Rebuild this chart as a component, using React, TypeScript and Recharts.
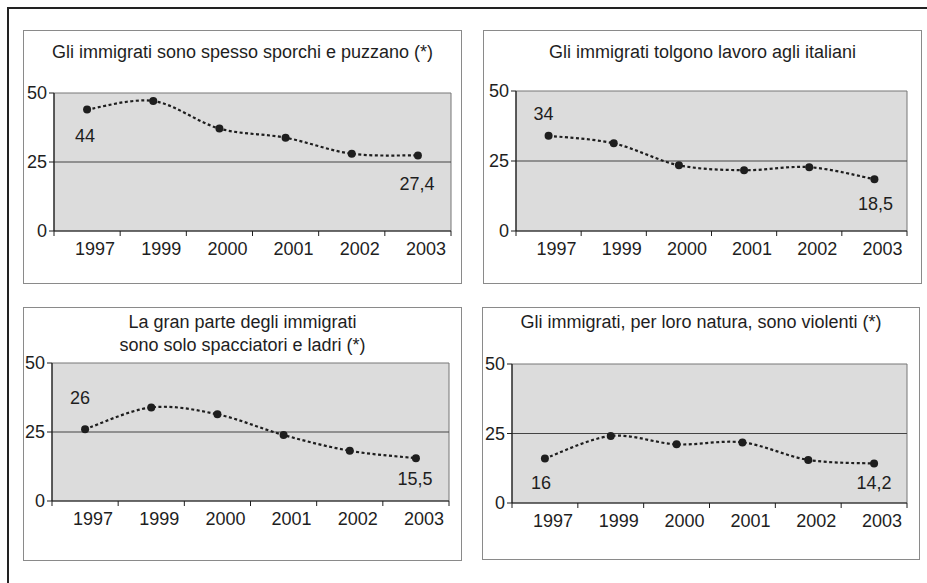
import { LineChart, Line, XAxis, YAxis, ReferenceArea, ReferenceLine } from 'recharts';

const years = ['1997', '1999', '2000', '2001', '2002', '2003'];
const yTicks = [0, 25, 50];

const sporchi = [44, 47.1, 37.1, 33.8, 28, 27.4];
const lavoro = [34, 31.3, 23.5, 21.7, 22.8, 18.5];
const ladri = [26, 33.9, 31.4, 23.9, 18.2, 15.5];
const violenti = [16, 24.1, 21.1, 21.8, 15.5, 14.2];

const titleSporchi = ['Gli immigrati sono spesso sporchi e puzzano (*)'];
const titleLavoro = ['Gli immigrati tolgono lavoro agli italiani'];
const titleLadri = ['La gran parte degli immigrati', 'sono solo spacciatori e ladri (*)'];
const titleViolenti = ['Gli immigrati, per loro natura, sono violenti (*)'];

const FONT = '"Liberation Sans", Arial, sans-serif';
const INK = '#1e1e1e';
const X_AXIS_H = 30;

interface Box { l: number; t: number; r: number; b: number }

interface PanelCfg {
  title: string[];
  values: number[];
  box: Box;
  plot: Box;
  titleTop: number;
  // offset of the first / last value label from its point
  labelDy: [number, number];
  labelDx: [number, number];
}

const panels: PanelCfg[] = [
  { title: titleSporchi, values: sporchi, box: { l: 23, t: 30, r: 462, b: 284 }, plot: { l: 54, t: 93, r: 451, b: 231 }, titleTop: 41, labelDy: [26, 28], labelDx: [-2, -1] },
  { title: titleLavoro, values: lavoro, box: { l: 483, t: 30, r: 922, b: 284 }, plot: { l: 516, t: 91, r: 907, b: 231 }, titleTop: 41, labelDy: [-22, 24], labelDx: [-5, 1] },
  { title: titleLadri, values: ladri, box: { l: 23, t: 307, r: 462, b: 561 }, plot: { l: 52, t: 363, r: 449, b: 501 }, titleTop: 311, labelDy: [-32, 20], labelDx: [-5, -1] },
  { title: titleViolenti, values: violenti, box: { l: 482, t: 307, r: 920, b: 560 }, plot: { l: 512, t: 364, r: 907, b: 503 }, titleTop: 311, labelDy: [24, 19], labelDx: [-4, 0] },
];

// Excel-like smoothed line (uniform Catmull-Rom)
function catmullRom(context: any) {
  let pts: [number, number][] = [];
  return {
    areaStart() {},
    areaEnd() {},
    lineStart() { pts = []; },
    lineEnd() {
      const n = pts.length;
      if (!n) return;
      context.moveTo(pts[0][0], pts[0][1]);
      for (let i = 0; i < n - 1; i++) {
        const p0 = pts[Math.max(i - 1, 0)];
        const p1 = pts[i];
        const p2 = pts[i + 1];
        const p3 = pts[Math.min(i + 2, n - 1)];
        context.bezierCurveTo(
          p1[0] + (p2[0] - p0[0]) / 6, p1[1] + (p2[1] - p0[1]) / 6,
          p2[0] - (p3[0] - p1[0]) / 6, p2[1] - (p3[1] - p1[1]) / 6,
          p2[0], p2[1],
        );
      }
    },
    point(x: number, y: number) { pts.push([x, y]); },
  };
}

function fmt(v: number): string {
  return String(v).replace('.', ',');
}

function Panel({ cfg }: { cfg: PanelCfg }) {
  const { box, plot } = cfg;
  const w = box.r - box.l;
  const h = box.b - box.t;
  const data = years.map((year, i) => ({ year, v: cfg.values[i] }));
  const halfBand = (plot.r - plot.l) / years.length / 2;
  const last = years.length - 1;

  const YearTick = (props: any) => {
    const { x, y, payload, index } = props;
    const half = payload?.offset || halfBand;
    return (
      <g>
        <line x1={x - half} y1={y} x2={x - half} y2={y + 5} stroke={INK} />
        {index === last && <line x1={x + half} y1={y} x2={x + half} y2={y + 5} stroke={INK} />}
        <text x={x + 8} y={y + 18} dy="0.35em" textAnchor="middle" fontSize={18} fontFamily={FONT} fill={INK}>
          {payload.value}
        </text>
      </g>
    );
  };

  const renderLabel = (props: any) => {
    const { x, y, value, index } = props;
    if (index !== 0 && index !== last) return null;
    const k = index === 0 ? 0 : 1;
    return (
      <text x={x + cfg.labelDx[k]} y={y + cfg.labelDy[k]} dy="0.35em" textAnchor="middle" fontSize={18} fontFamily={FONT} fill={INK}>
        {fmt(value)}
      </text>
    );
  };

  return (
    <>
      <div style={{ position: 'absolute', left: box.l, top: box.t, width: w - 2, height: h - 2, border: '1.5px solid #8a8a8a' }} />
      <div style={{ position: 'absolute', left: box.l, top: cfg.titleTop, width: w, textAlign: 'center', fontFamily: FONT, fontSize: 18, lineHeight: '23px', color: INK }}>
        {cfg.title.map((t) => <div key={t}>{t}</div>)}
      </div>
      <div style={{ position: 'absolute', left: box.l, top: box.t }}>
        <LineChart
          width={w}
          height={h}
          data={data}
          margin={{ top: plot.t - box.t, right: box.r - plot.r, left: 0, bottom: box.b - plot.b - X_AXIS_H }}
        >
          <ReferenceArea y1={0} y2={50} fill="#dcdcdc" fillOpacity={1} stroke="#777" strokeWidth={1} ifOverflow="extendDomain" />
          <ReferenceLine y={25} stroke="#444" strokeWidth={1} />
          <XAxis
            dataKey="year"
            scale="band"
            height={X_AXIS_H}
            interval={0}
            tickLine={false}
            tickSize={0}
            tickMargin={0}
            axisLine={{ stroke: INK, strokeWidth: 1.2 }}
            tick={<YearTick />}
          />
          <YAxis
            width={plot.l - box.l}
            domain={[0, 50]}
            ticks={yTicks}
            interval={0}
            tickSize={5}
            tickMargin={2}
            axisLine={{ stroke: INK, strokeWidth: 1.2 }}
            tickLine={{ stroke: INK }}
            tick={{ fontSize: 18, fontFamily: FONT, fill: INK }}
          />
          <Line
            dataKey="v"
            type={catmullRom as any}
            stroke={INK}
            strokeWidth={2.2}
            strokeDasharray="3 2.5"
            dot={{ r: 4, fill: INK, stroke: 'none' }}
            activeDot={false}
            label={renderLabel}
            isAnimationActive={false}
          />
        </LineChart>
      </div>
    </>
  );
}

export default function App() {
  return (
    <div style={{ position: 'absolute', left: 0, top: 0, width: 927, height: 583, overflow: 'hidden', background: '#fff' }}>
      <div style={{ position: 'absolute', left: 7, top: 7, width: 960, height: 620, border: '2.5px solid #222' }} />
      {panels.map((p) => <Panel key={p.title[0]} cfg={p} />)}
    </div>
  );
}
